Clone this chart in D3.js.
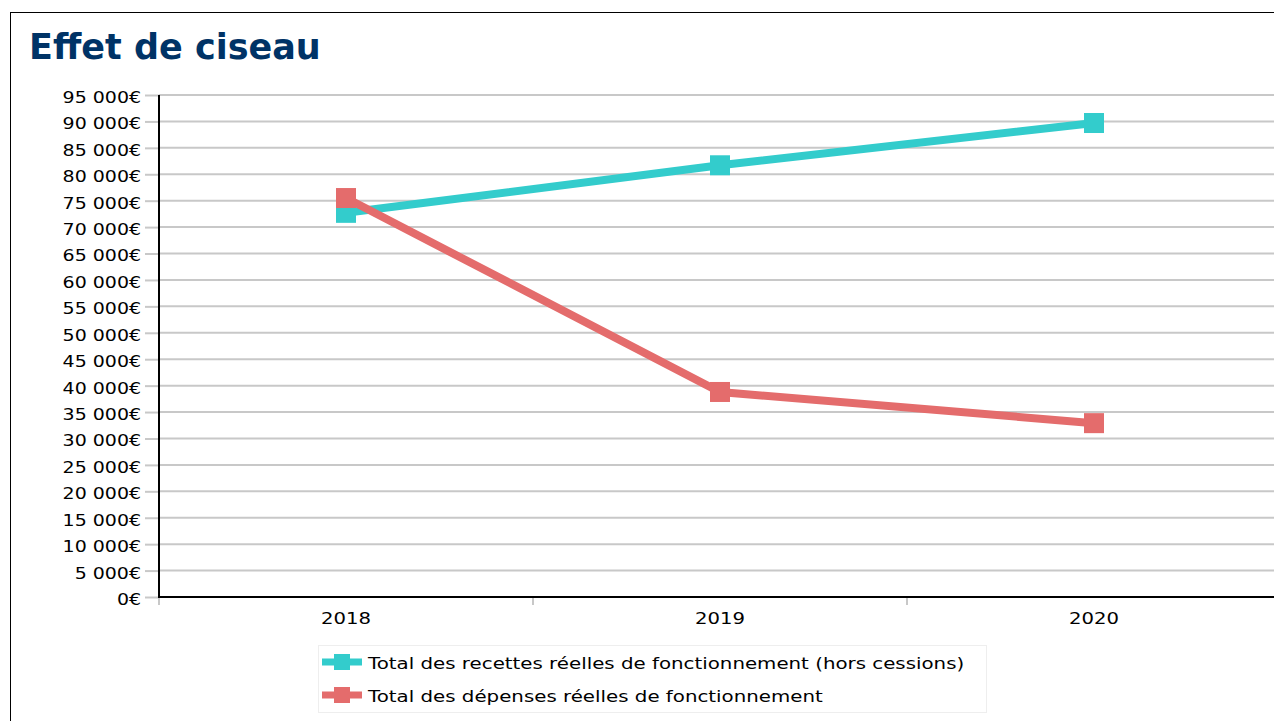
<!DOCTYPE html>
<html><head><meta charset="utf-8">
<script src="https://cdn.jsdelivr.net/npm/d3@7"></script>
<style>
html,body{margin:0;padding:0;background:#fff;}
svg{display:block;font-family:"DejaVu Sans",sans-serif;}
</style></head>
<body>
<svg id="chart" width="1274" height="721"></svg>
<script>
const years = ["2018","2019","2020"];
const recettes = [72700, 81700, 89700];
const depenses = [75500, 38800, 32900];
const seriesNames = ["Total des recettes réelles de fonctionnement (hors cessions)", "Total des dépenses réelles de fonctionnement"];
const seriesColors = ["#33cccc", "#e46c6c"];
const yTicks = d3.range(0, 95001, 5000);

(function(){
const svg = d3.select("#chart");
svg.append("rect").attr("x",10.5).attr("y",12.5).attr("width",1300).attr("height",800)
  .attr("fill","#fff").attr("stroke","#000").attr("stroke-width",1);

svg.append("text").attr("x",29).attr("y",59).attr("fill","#003366")
  .attr("font-size",35).attr("font-weight","bold").text("Effet de ciseau");

const pl=159, pr=1281, pt=95, pb=597;
const x = d3.scaleBand().domain(years).range([pl,pr]).padding(0);
const y = d3.scaleLinear().domain([0,95000]).range([pb,pt]);

const fmt = v => (v===0 ? "0" : d3.format(",")(v).replace(/,/g," ")) + "€";

svg.append("g").selectAll("line").data(yTicks.filter(d=>d>0)).join("line")
  .attr("x1",pl).attr("x2",1274).attr("y1",d=>y(d)).attr("y2",d=>y(d))
  .attr("stroke","#c8c8c8").attr("stroke-width",2);

const tS=14, tP=4, sy=1.15;
const yAxis = svg.append("g").attr("transform",`translate(${pl},0)`)
  .call(d3.axisLeft(y).tickValues(yTicks).tickFormat(fmt).tickSize(tS).tickPadding(tP));
yAxis.select(".domain").remove();
yAxis.selectAll(".tick line").attr("stroke","#c8c8c8").attr("stroke-width",2);
yAxis.selectAll(".tick text").attr("font-size",16.5).attr("fill","#000")
  .attr("font-family","DejaVu Sans").attr("dy","0.45em")
  .attr("x", -(tS+tP)/sy).attr("transform",`scale(${sy},1)`);

const bounds = years.map(d=>x(d)).concat([pr]);
svg.append("g").selectAll("line").data(bounds).join("line")
  .attr("x1",d=>d).attr("x2",d=>d).attr("y1",pb).attr("y2",pb+8)
  .attr("stroke","#c8c8c8").attr("stroke-width",2);
const sx=1.19;
svg.append("g").selectAll("text").data(years).join("text")
  .attr("transform",d=>`translate(${x(d)+x.bandwidth()/2},624) scale(${sx},1)`)
  .attr("text-anchor","middle")
  .attr("font-size",16.5).attr("fill","#000").text(d=>d);

svg.append("line").attr("x1",pl).attr("x2",pl).attr("y1",pt).attr("y2",pb+1).attr("stroke","#000").attr("stroke-width",2);
svg.append("line").attr("x1",pl).attr("x2",1274).attr("y1",pb).attr("y2",pb).attr("stroke","#000").attr("stroke-width",2);

const series = [recettes, depenses];
const line = d3.line().x((d,i)=>x(years[i])+x.bandwidth()/2).y(d=>y(d));
series.forEach((s,k)=>{
  const g = svg.append("g");
  g.append("path").datum(s).attr("d",line).attr("fill","none")
    .attr("stroke",seriesColors[k]).attr("stroke-width",8);
  g.selectAll("rect").data(s).join("rect")
    .attr("x",(d,i)=>x(years[i])+x.bandwidth()/2-10).attr("y",d=>y(d)-10)
    .attr("width",20).attr("height",20).attr("fill",seriesColors[k]);
});

const lg = svg.append("g");
lg.append("rect").attr("x",318.5).attr("y",645.5).attr("width",668).attr("height",67)
  .attr("fill","#fff").attr("stroke","#eeeeee");
seriesNames.forEach((n,k)=>{
  const cy = 662 + k*33;
  lg.append("line").attr("x1",322).attr("x2",362).attr("y1",cy).attr("y2",cy)
    .attr("stroke",seriesColors[k]).attr("stroke-width",7);
  lg.append("rect").attr("x",334).attr("y",cy-8).attr("width",16).attr("height",16).attr("fill",seriesColors[k]);
  lg.append("text").attr("transform",`translate(368,${cy+7}) scale(1.2,1)`)
    .attr("font-size",16.5).attr("fill","#000").text(n);
});
})();
</script>
</body></html>
